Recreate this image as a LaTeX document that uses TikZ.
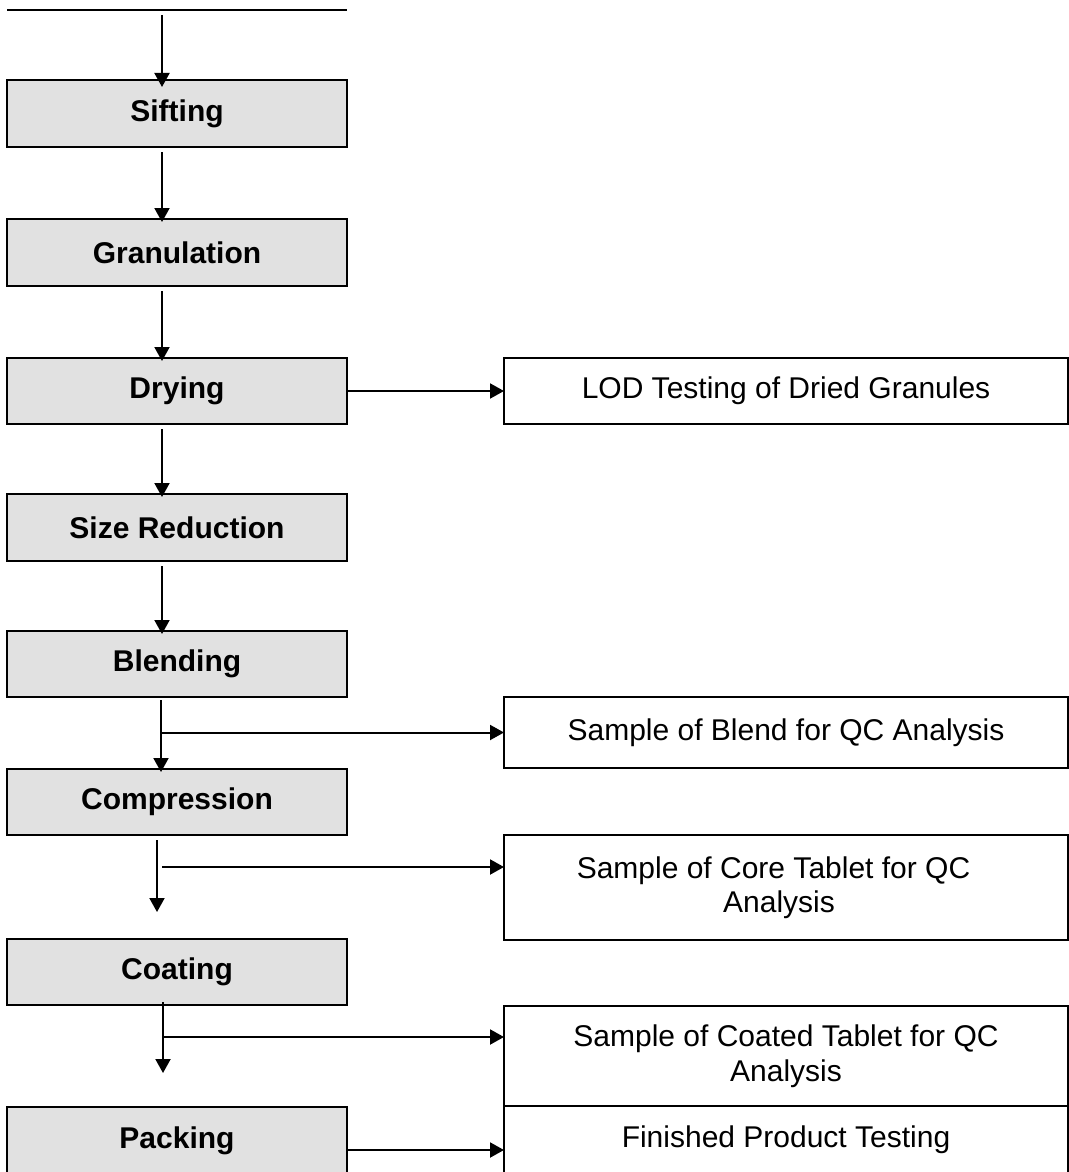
\documentclass[tikz,border=0pt]{standalone}
\usepackage{fontspec}
\setmainfont{Liberation Sans}
\usetikzlibrary{arrows.meta,calc}
\definecolor{stepfill}{RGB}{225,225,225}
\begin{document}
\begin{tikzpicture}[x=0.5pt,y=-0.5pt,
  every node/.style={inner sep=0pt,outer sep=0pt,font=\fontsize{15}{17.25}\selectfont},
  stagebox/.style={draw,line width=1.2pt,fill=stepfill,minimum width=170pt,minimum height=33.5pt,font=\fontsize{15}{17.25}\selectfont\bfseries},
  testbox/.style={draw,line width=1.2pt,fill=white,minimum width=282pt,align=center},
  arr/.style={line width=1pt,-{Triangle[length=7pt,width=7.5pt]}},
  intobox/.style={shorten >=-1.5pt}]
\useasboundingbox (0,0) rectangle (1069,1172);

% process stages
\node[stagebox] (sift)  at (177,113.5)  {Sifting};
\node[stagebox] (gran)  at (177,252.5)  {Granulation};
\node[stagebox,minimum height=33pt] (dry) at (177,391) {Drying};
\node[stagebox] (size)  at (177,527.5)  {Size Reduction};
\node[stagebox,minimum height=33pt] (blend) at (177,664) {Blending};
\node[stagebox,minimum height=33pt] (comp)  at (177,802) {Compression};
\node[stagebox,minimum height=33pt] (coat)  at (177,972) {Coating};
\node[stagebox] (pack)  at (177,1140.5) {Packing};

% in-process and release tests
\node[testbox,minimum height=33pt]   (lod)    at (786,391)    {LOD Testing of Dried Granules};
\node[testbox,minimum height=35.5pt] (sblend) at (786,732.5)  {Sample of Blend for QC Analysis};
\node[testbox,minimum height=52.5pt] (score)  at (786,887.5)  {Sample of Core Tablet for QC\hspace*{12.5pt}\\Analysis\hspace*{7pt}};
\node[testbox,minimum height=50pt]   (scoat)  at (786,1056)   {Sample of Coated Tablet for QC\\Analysis};
\node[testbox,minimum height=34pt]   (fin)    at (786,1140)   {Finished Product Testing};

% feed line at the top
\coordinate (feedL) at (7,10);
\coordinate (feedR) at (347,10);
\coordinate (feed)  at (162,15);
\draw[line width=1.3pt] (feedL) -- (feedR);
\draw[arr,shorten >=-3.5pt] (feed) -- (feed |- sift.north);

% main flow
\draw[arr,intobox] ([xshift=-7.5pt,yshift=-2.5pt]sift.south) -- ([xshift=-7.5pt]gran.north);
\draw[arr,intobox] ([xshift=-7.5pt,yshift=-2.5pt]gran.south) -- ([xshift=-7.5pt]dry.north);
\draw[arr,intobox] ([xshift=-7.5pt,yshift=-2.5pt]dry.south)  -- ([xshift=-7.5pt]size.north);
\draw[arr,intobox] ([xshift=-7.5pt,yshift=-2.5pt]size.south) -- ([xshift=-7.5pt]blend.north);
\draw[arr,intobox] ([xshift=-8pt,yshift=-1.5pt]blend.south)  -- ([xshift=-8pt]comp.north);

\coordinate (compEnd) at (157,912);
\draw[arr] ([xshift=-10pt,yshift=-2.5pt]comp.south) -- (compEnd);
\coordinate (coatEnd) at (163,1073);
\draw[arr] ([xshift=-7pt,yshift=1.5pt]coat.south) -- (coatEnd);

% sampling branches
\draw[arr] (dry.east) -- (lod.west);
\coordinate (blendTap) at (161,732.5);
\draw[arr] (blendTap) -- (sblend.west);
\coordinate (compTap) at (162,867);
\draw[arr] (compTap) -- (compTap -| score.west);
\coordinate (coatTap) at (163,1037);
\draw[arr] (coatTap) -- (coatTap -| scoat.west);
\draw[arr] ([yshift=-4.75pt]pack.east) -- ([yshift=-4.75pt]pack.east -| fin.west);
\end{tikzpicture}
\end{document}
